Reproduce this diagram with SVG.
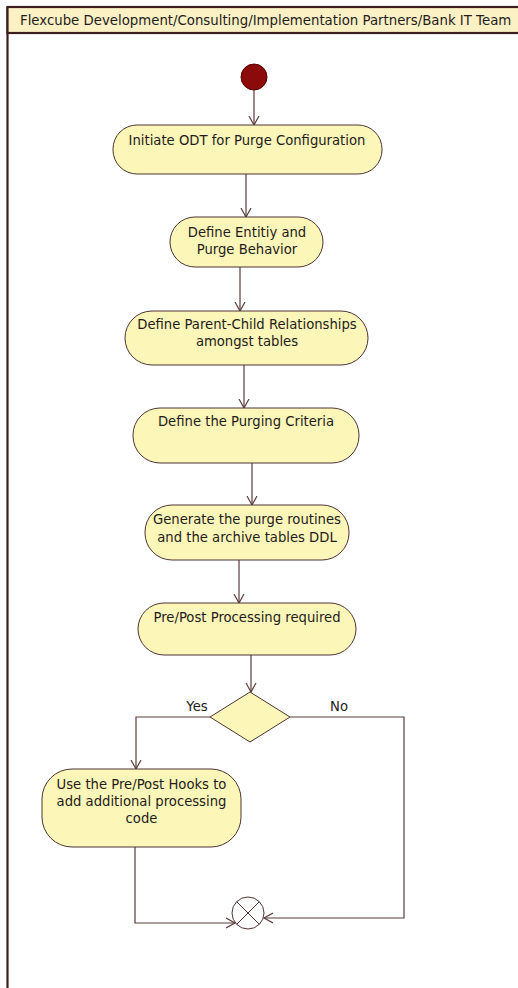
<svg xmlns="http://www.w3.org/2000/svg" width="518" height="988" viewBox="0 0 518 988">
<style>
.frame{fill:none;stroke:#3b1e1e;stroke-width:2.2}
.head{fill:#fcf1c4;stroke:#3b1e1e;stroke-width:2.2}
.node{fill:#fcf6b8;stroke:#4e3434;stroke-width:1}
.t{font-family:"DejaVu Sans",Verdana,sans-serif;font-size:13.2px;fill:#241c1c;text-anchor:middle}
.ht{font-family:"DejaVu Sans",Verdana,sans-serif;font-size:13.3px;fill:#241c1c}
.c{fill:none;stroke:#5a3c3c;stroke-width:1.2}
</style>
<defs>
<marker id="arr" markerUnits="userSpaceOnUse" markerWidth="12" markerHeight="12" refX="9" refY="5" orient="auto" viewBox="0 0 12 10">
<path d="M0,0 L9,5 L0,10" fill="none" stroke="#5a3c3c" stroke-width="1.2"/>
</marker>
</defs>
<rect width="518" height="988" fill="#ffffff"/>
<g id="swimlane">
<line class="frame" x1="7.5" y1="7" x2="7.5" y2="988"/>
<rect class="head" x="7.5" y="7" width="515" height="26"/>
<text class="ht" x="20" y="25">Flexcube Development/Consulting/Implementation Partners/Bank IT Team</text>
</g>
<g id="connectors">
<line class="c" x1="254" y1="90" x2="254" y2="125" marker-end="url(#arr)"/>
<line class="c" x1="246" y1="174" x2="246" y2="217" marker-end="url(#arr)"/>
<line class="c" x1="240" y1="267" x2="240" y2="311" marker-end="url(#arr)"/>
<line class="c" x1="244" y1="365" x2="244" y2="408" marker-end="url(#arr)"/>
<line class="c" x1="252" y1="463" x2="252" y2="505" marker-end="url(#arr)"/>
<line class="c" x1="239" y1="560" x2="239" y2="603" marker-end="url(#arr)"/>
<line class="c" x1="251" y1="655" x2="251" y2="692" marker-end="url(#arr)"/>
<polyline class="c" points="210,717 136,717 136,769" marker-end="url(#arr)"/>
<polyline class="c" points="290,717 404,717 404,918 264,918" marker-end="url(#arr)"/>
<polyline class="c" points="135,847 135,923 235,923" marker-end="url(#arr)"/>
<text class="t" x="197" y="711">Yes</text>
<text class="t" x="339" y="711">No</text>
</g>
<g id="start">
<circle cx="254" cy="77" r="13" fill="#8b0a0a" stroke="#5a0000" stroke-width="1"/>
</g>
<g id="n1">
<rect class="node" x="113" y="125" width="269" height="49" rx="24" ry="24"/>
<text class="t" x="247" y="145">Initiate ODT for Purge Configuration</text>
</g>
<g id="n2">
<rect class="node" x="170" y="217" width="153" height="50" rx="25" ry="25"/>
<text class="t" x="247" y="237">Define Entitiy and</text>
<text class="t" x="247" y="254">Purge Behavior</text>
</g>
<g id="n3">
<rect class="node" x="125" y="311" width="243" height="54" rx="27" ry="27"/>
<text class="t" x="247" y="329">Define Parent-Child Relationships</text>
<text class="t" x="247" y="346">amongst tables</text>
</g>
<g id="n4">
<rect class="node" x="133" y="408" width="226" height="55" rx="27" ry="27"/>
<text class="t" x="246" y="426">Define the Purging Criteria</text>
</g>
<g id="n5">
<rect class="node" x="145" y="505" width="204" height="55" rx="27" ry="27"/>
<text class="t" x="247" y="524">Generate the purge routines</text>
<text class="t" x="247" y="542">and the archive tables DDL</text>
</g>
<g id="n6">
<rect class="node" x="138" y="603" width="218" height="52" rx="26" ry="26"/>
<text class="t" x="247" y="622">Pre/Post Processing required</text>
</g>
<g id="decision">
<polygon class="node" points="250,692 290,717 250,742 210,717"/>
</g>
<g id="n7">
<rect class="node" x="42" y="769" width="199" height="78" rx="30" ry="30"/>
<text class="t" x="141.5" y="789">Use the Pre/Post Hooks to</text>
<text class="t" x="141.5" y="806">add additional processing</text>
<text class="t" x="141.5" y="823">code</text>
</g>
<g id="final">
<circle cx="248" cy="913" r="16" fill="#ffffff" stroke="#4e3434" stroke-width="1"/>
<line x1="236.7" y1="901.7" x2="259.3" y2="924.3" stroke="#4e3434" stroke-width="1"/>
<line x1="259.3" y1="901.7" x2="236.7" y2="924.3" stroke="#4e3434" stroke-width="1"/>
</g>
</svg>
